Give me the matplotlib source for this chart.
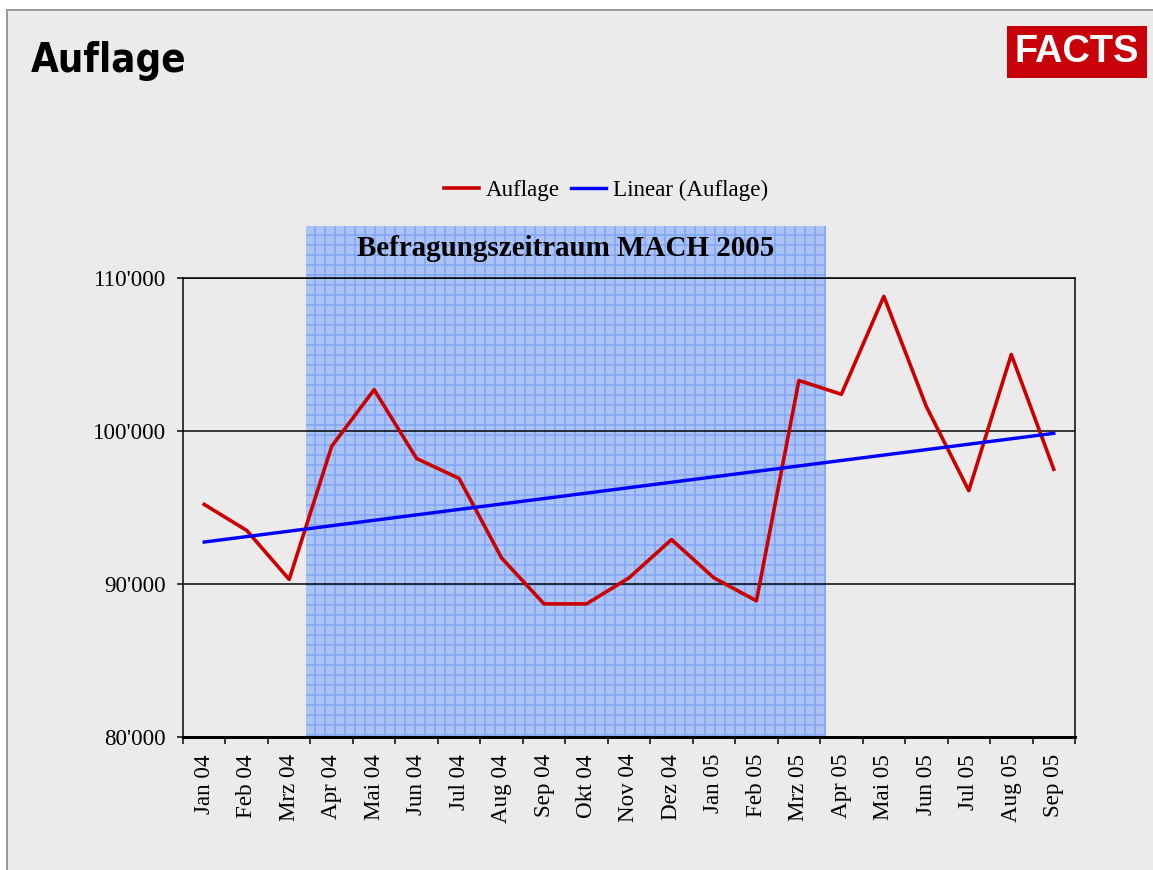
#!/usr/bin/env python3
"""Auflage Jan 04 - Sep 05, mit linearem Trend und Befragungszeitraum MACH 2005."""
import os
import numpy as np
import matplotlib
matplotlib.use("Agg")
import matplotlib.pyplot as plt
from matplotlib.patches import Rectangle
from matplotlib.ticker import FuncFormatter, FixedLocator
from matplotlib import font_manager
from matplotlib.font_manager import FontProperties

# ---------- Daten ----------
monate = ["Jan 04", "Feb 04", "Mrz 04", "Apr 04", "Mai 04", "Jun 04", "Jul 04",
          "Aug 04", "Sep 04", "Okt 04", "Nov 04", "Dez 04", "Jan 05", "Feb 05",
          "Mrz 05", "Apr 05", "Mai 05", "Jun 05", "Jul 05", "Aug 05", "Sep 05"]
auflage = [95200, 93500, 90300, 99000, 102700, 98200, 96900,
           91700, 88700, 88700, 90400, 92900, 90400, 88900,
           103300, 102400, 108800, 101600, 96100, 105000, 97500]
y_ticks = [80000, 90000, 100000, 110000]
y_grid = [90000, 100000, 110000]

# Befragungszeitraum (Kategorie-Koordinaten)
SHADE_X0, SHADE_X1, SHADE_TOP = 2.39, 14.63, 113400

# ---------- Stil ----------
DPI = 120
W, H = 1153, 870
def px(v):
    return v * 72.0 / DPI

fonts = font_manager.fontManager.ttflist
installed = {f.name for f in fonts}
SERIF = "Liberation Serif" if "Liberation Serif" in installed else "DejaVu Serif"
SANS = "Liberation Sans" if "Liberation Sans" in installed else "DejaVu Sans"

# schmale, fette Schrift für den Titel suchen (falls vorhanden)
def find_condensed():
    prefs = ["notosans-condensedbold", "notosans-extracondensedbold"]
    cands = []
    for f in fonts:
        fn = os.path.splitext(os.path.basename(f.fname).lower())[0]
        if fn in prefs:
            cands.append((prefs.index(fn), f.fname))
        elif "condensedbold" in fn.replace("-", "") and "semi" not in fn \
                and "italic" not in fn and "oblique" not in fn:
            cands.append((5, f.fname))
    if not cands:
        return None
    cands.sort()
    return cands[0]

cond = find_condensed()
if cond and cond[0] == 0:
    title_fp = FontProperties(fname=cond[1], size=px(48))
elif cond and cond[0] == 1:
    title_fp = FontProperties(fname=cond[1], size=px(52))
elif cond:
    title_fp = FontProperties(fname=cond[1], size=px(40))
else:
    title_fp = FontProperties(family=SANS, weight="bold", size=px(40))

RED = "#cc0000"
BLUE = "#0000ff"
BG = "#ebebeb"

plt.rcParams["hatch.linewidth"] = 0.9

fig = plt.figure(figsize=(W / DPI, H / DPI), dpi=DPI, facecolor="white")
# Hintergrund mit Rand links/oben
fig.patches.append(Rectangle((7 / W, -0.1), 1.2, 1.1 - 10 / H, transform=fig.transFigure,
                             facecolor=BG, edgecolor="#9a9a9a", linewidth=px(2),
                             zorder=-10))

# Titel
fig.text(31 / W, 1 - 61 / H, "Auflage", fontproperties=title_fp,
         va="center", ha="left")

# FACTS Logo
fig.text(1077 / W, 1 - 52 / H, "FACTS", family=SANS, weight="bold", color="white",
         fontsize=px(38), ha="center", va="center",
         bbox=dict(boxstyle="square,pad=0.2", facecolor="#c8000a", edgecolor="none"))

left, right, top, bottom = 183 / W, 1075 / W, 1 - 278 / H, 1 - 737 / H
ax = fig.add_axes([left, bottom, right - left, top - bottom])
ax.set_facecolor(BG)

x = np.arange(len(monate))

# Befragungszeitraum
shade = Rectangle((SHADE_X0, y_ticks[0]), SHADE_X1 - SHADE_X0, SHADE_TOP - y_ticks[0],
                  facecolor="#abc4f5", edgecolor="#80a5f6", hatch="++",
                  linewidth=0, clip_on=False, zorder=1)
ax.add_patch(shade)
ax.text((SHADE_X0 + SHADE_X1) / 2, 111900, "Befragungszeitraum MACH 2005",
        family=SERIF, weight="bold", fontsize=px(29), ha="center", va="center",
        zorder=5)

for g in y_grid:
    ax.axhline(g, color="black", linewidth=px(1.5), zorder=2)

# Linearer Trend (Excel-Trendlinie = Kleinste-Quadrate-Gerade der Daten)
k, d = np.polyfit(x, auflage, 1)
trend = k * x + d

ax.plot(x, auflage, color=RED, linewidth=px(3.6), label="Auflage", zorder=3)
ax.plot(x, trend, color=BLUE, linewidth=px(3.4), label="Linear (Auflage)", zorder=4)

ax.set_xlim(-0.5, len(monate) - 0.5)
ax.set_ylim(y_ticks[0], y_ticks[-1])

ax.yaxis.set_major_locator(FixedLocator(y_ticks))
ax.yaxis.set_major_formatter(FuncFormatter(lambda v, p: f"{v:,.0f}".replace(",", "'")))
ax.tick_params(axis="y", direction="out", length=px(6), width=px(1.5), pad=px(11),
               labelsize=px(23))

ax.set_xticks(np.arange(len(monate) + 1) - 0.5)
ax.set_xticklabels([])
ax.set_xticks(x, minor=True)
ax.set_xticklabels(monate, minor=True, rotation=90, family=SERIF, fontsize=px(23))
ax.tick_params(axis="x", which="major", direction="out", length=px(7), width=px(1.5))
ax.tick_params(axis="x", which="minor", length=0, pad=px(17))
for lbl in ax.get_yticklabels():
    lbl.set_family(SERIF)

for s in ax.spines.values():
    s.set_color("black")
    s.set_linewidth(px(1.5))
ax.spines["bottom"].set_linewidth(px(3))

leg = fig.legend(loc="center", bbox_to_anchor=(606 / W, 1 - 190 / H), ncol=2,
                 frameon=False, prop=dict(family=SERIF, size=px(23)),
                 handlelength=1.5, handletextpad=0.3, columnspacing=0.5)

fig.savefig("out.png", dpi=DPI, facecolor=fig.get_facecolor())
